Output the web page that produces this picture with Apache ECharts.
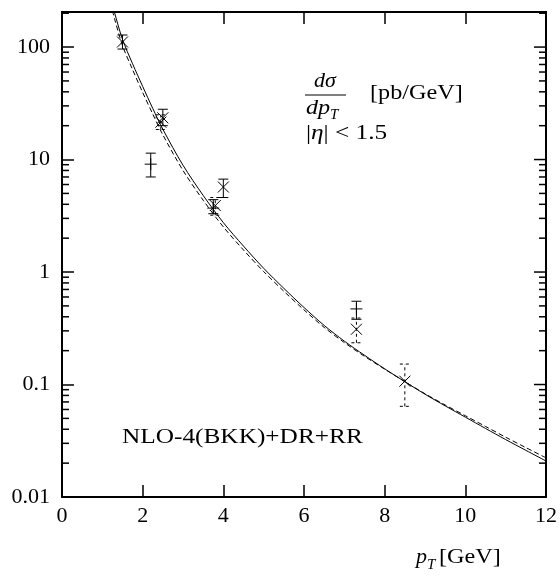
<!DOCTYPE html>
<html><head><meta charset="utf-8">
<script src="https://cdn.jsdelivr.net/npm/echarts@6/dist/echarts.min.js"></script>
<style>html,body{margin:0;padding:0;background:#fff}#c{width:560px;height:578px}</style>
</head><body><div id="c"></div>
<script>
// ---- data ----
const curveP  = [1.25,1.3,1.5,1.75,2.0,2.25,2.5,3.0,3.5,4.0,4.5,5.0,5.5,6.0,6.5,7.0,7.5,8.0,8.5,9.0,9.5,10,10.5,11,11.5,12];
const solidV  = [240,204,117,71,44.7,28.5,18.6,8.9,4.8,2.75,1.70,1.08,0.716,0.484,0.335,0.243,0.182,0.138,0.106,0.082,0.0646,0.0513,0.0407,0.0324,0.026,0.0209];
const dashedV = [212,180,103,63,39.5,25.4,16.6,8.0,4.35,2.52,1.57,1.01,0.675,0.461,0.322,0.236,0.178,0.137,0.106,0.0828,0.0658,0.0528,0.0424,0.0340,0.0275,0.0223];

const crossSolidX = [1.5, 2.5, 4.0];
const crossSolidY = [111, 23.5, 5.7];
const crossSolidLo = [96, 20, 4.6];
const crossSolidHi = [128, 28, 6.7];

const crossDashX = [2.45, 3.8, 7.3, 8.5];
const crossDashY = [21.5, 3.9, 0.31, 0.107];
const crossDashLo = [18.5, 3.2, 0.235, 0.064];
const crossDashHi = [25, 4.6, 0.39, 0.152];

const plusX = [2.2, 3.75, 7.3];
const plusY = [9.1, 3.7, 0.47];
const plusLo = [7.0, 3.3, 0.38];
const plusHi = [11.4, 4.4, 0.55];

const xTicks = [0, 2, 4, 6, 8, 10, 12];
const yTickLabels = ['0.01', '0.1', '1', '10', '100'];
const yMajorTicks = [0.01, 0.1, 1, 10, 100];
const yMinorTicks = [0.02,0.03,0.04,0.05,0.06,0.07,0.08,0.09,
  0.2,0.3,0.4,0.5,0.6,0.7,0.8,0.9, 2,3,4,5,6,7,8,9, 20,30,40,50,60,70,80,90, 200];

// ---- chart ----
const FONT = 'Liberation Serif';
const Y_MIN = 0.01, Y_MAX = 205;
function zip(a, b) { return a.map((v, i) => [v, b[i]]); }
function zip4(a, b, c, d) { return a.map((v, i) => [v, b[i], c[i], d[i]]); }

function errRender(dashed, marker) {
  return function (params, api) {
    const x = api.value(0), y = api.value(1), lo = api.value(2), hi = api.value(3);
    const c = api.coord([x, y]), pl = api.coord([x, lo]), ph = api.coord([x, hi]);
    const st = { stroke: '#000', lineWidth: 1 };
    if (dashed) st.lineDash = [3, 3];
    const cap = 5, m = 5.5;
    const kids = [
      { type: 'line', shape: { x1: pl[0], y1: pl[1], x2: ph[0], y2: ph[1] }, style: st },
      { type: 'line', shape: { x1: pl[0] - cap, y1: pl[1], x2: pl[0] + cap, y2: pl[1] }, style: st },
      { type: 'line', shape: { x1: ph[0] - cap, y1: ph[1], x2: ph[0] + cap, y2: ph[1] }, style: st }
    ];
    const ms = { stroke: '#000', lineWidth: 1 };
    if (marker === 'x') {
      kids.push({ type: 'line', shape: { x1: c[0] - m, y1: c[1] - m, x2: c[0] + m, y2: c[1] + m }, style: ms });
      kids.push({ type: 'line', shape: { x1: c[0] - m, y1: c[1] + m, x2: c[0] + m, y2: c[1] - m }, style: ms });
    } else {
      kids.push({ type: 'line', shape: { x1: c[0] - 6, y1: c[1], x2: c[0] + 6, y2: c[1] }, style: ms });
      kids.push({ type: 'line', shape: { x1: c[0], y1: c[1] - 6, x2: c[0], y2: c[1] + 6 }, style: ms });
    }
    return { type: 'group', children: kids };
  };
}

function tickRender(len, leftSide) {
  return function (params, api) {
    const v = api.value(1);
    const p = api.coord([0, v]);
    const cs = params.coordSys;
    const st = { stroke: '#000', lineWidth: 1.5 };
    const kids = [
      { type: 'line', shape: { x1: cs.x + cs.width - len, y1: p[1], x2: cs.x + cs.width, y2: p[1] }, style: st }
    ];
    if (leftSide) kids.push({ type: 'line', shape: { x1: cs.x, y1: p[1], x2: cs.x + len, y2: p[1] }, style: st });
    return { type: 'group', children: kids };
  };
}

const chart = echarts.init(document.getElementById('c'), null, { renderer: 'canvas' });
const axisLineStyle = { show: true, lineStyle: { color: '#000', width: 2 } };
const tickStyle = { show: true, inside: true, length: 12, lineStyle: { color: '#000', width: 1.5 } };

chart.setOption({
  animation: false,
  backgroundColor: '#fff',
  grid: { left: 62, right: 14, top: 12, bottom: 81, containLabel: false, show: true, borderColor: '#000', borderWidth: 2, backgroundColor: 'transparent' },
  xAxis: [
    { type: 'value', min: 0, max: 12, interval: 2, position: 'bottom',
      axisLine: axisLineStyle, axisTick: tickStyle, splitLine: { show: false },
      axisLabel: { color: '#000', fontFamily: FONT, fontSize: 22, margin: 8,
        formatter: v => xTicks.indexOf(v) >= 0 ? String(v) : '' } },
    { type: 'value', min: 0, max: 12, interval: 2, position: 'top',
      axisLine: axisLineStyle, axisTick: tickStyle, splitLine: { show: false },
      axisLabel: { show: false } }
  ],
  yAxis: [
    { type: 'log', min: Y_MIN, max: Y_MAX, logBase: 10, position: 'left',
      axisLine: axisLineStyle, axisTick: tickStyle, splitLine: { show: false },
      axisLabel: { color: '#000', fontFamily: FONT, fontSize: 22, margin: 12,
        formatter: v => {
          const e = Math.log10(v), r = Math.round(e);
          if (Math.abs(e - r) > 1e-6) return '';
          return yTickLabels[r + 2] || '';
        } } }
  ],
  series: [
    { type: 'line', data: zip(curveP, solidV), smooth: 0.3, symbol: 'none', clip: true,
      lineStyle: { color: '#000', width: 1 }, z: 3 },
    { type: 'line', data: zip(curveP, dashedV), smooth: 0.3, symbol: 'none', clip: true,
      lineStyle: { color: '#000', width: 1, type: [5, 3] }, z: 3 },
    { type: 'custom', renderItem: errRender(false, 'x'), data: zip4(crossSolidX, crossSolidY, crossSolidLo, crossSolidHi), z: 4 },
    { type: 'custom', renderItem: errRender(true, 'x'), data: zip4(crossDashX, crossDashY, crossDashLo, crossDashHi), z: 4 },
    { type: 'custom', renderItem: errRender(false, '+'), data: zip4(plusX, plusY, plusLo, plusHi), z: 4 },
    { type: 'custom', renderItem: tickRender(7, true), data: yMinorTicks.map(v => [0, v]), z: 5 },
    { type: 'custom', renderItem: tickRender(12, false), data: yMajorTicks.map(v => [0, v]), z: 5 }
  ],
  graphic: [
    { type: 'text', x: 325, y: 81, style: { text: 'dσ', fontFamily: FONT, fontStyle: 'italic', fontSize: 22, fill: '#000', align: 'center', verticalAlign: 'middle' } },
    { type: 'line', shape: { x1: 305, y1: 95, x2: 346, y2: 95 }, style: { stroke: '#000', lineWidth: 1 } },
    { type: 'text', x: 306, y: 108, scaleX: 1.1, style: { text: 'dp', fontFamily: FONT, fontStyle: 'italic', fontSize: 22, fill: '#000', align: 'left', verticalAlign: 'middle' } },
    { type: 'text', x: 330, y: 115, style: { text: 'T', fontFamily: FONT, fontStyle: 'italic', fontSize: 15, fill: '#000', align: 'left', verticalAlign: 'middle' } },
    { type: 'text', x: 370, y: 93, scaleX: 1.1, style: { text: '[pb/GeV]', fontFamily: FONT, fontSize: 22, fill: '#000', align: 'left', verticalAlign: 'middle' } },
    { type: 'text', x: 306, y: 133, scaleX: 1.15, style: { text: '{r||}{i|η}{r|| < 1.5}', fontFamily: FONT, fontSize: 22, fill: '#000', align: 'left', verticalAlign: 'middle',
        rich: { r: { fontFamily: FONT, fontSize: 22, fill: '#000' }, i: { fontFamily: FONT, fontSize: 22, fontStyle: 'italic', fill: '#000' } } } },
    { type: 'text', x: 122, y: 437, scaleX: 1.15, style: { text: 'NLO-4(BKK)+DR+RR', fontFamily: FONT, fontSize: 22, fill: '#000', align: 'left', verticalAlign: 'middle' } },
    { type: 'text', x: 416, y: 557, style: { text: 'p', fontFamily: FONT, fontStyle: 'italic', fontSize: 22, fill: '#000', align: 'left', verticalAlign: 'middle' } },
    { type: 'text', x: 427, y: 565, style: { text: 'T', fontFamily: FONT, fontStyle: 'italic', fontSize: 15, fill: '#000', align: 'left', verticalAlign: 'middle' } },
    { type: 'text', x: 439, y: 557, scaleX: 1.1, style: { text: '[GeV]', fontFamily: FONT, fontSize: 22, fill: '#000', align: 'left', verticalAlign: 'middle' } }
  ]
});
</script>
</body></html>
